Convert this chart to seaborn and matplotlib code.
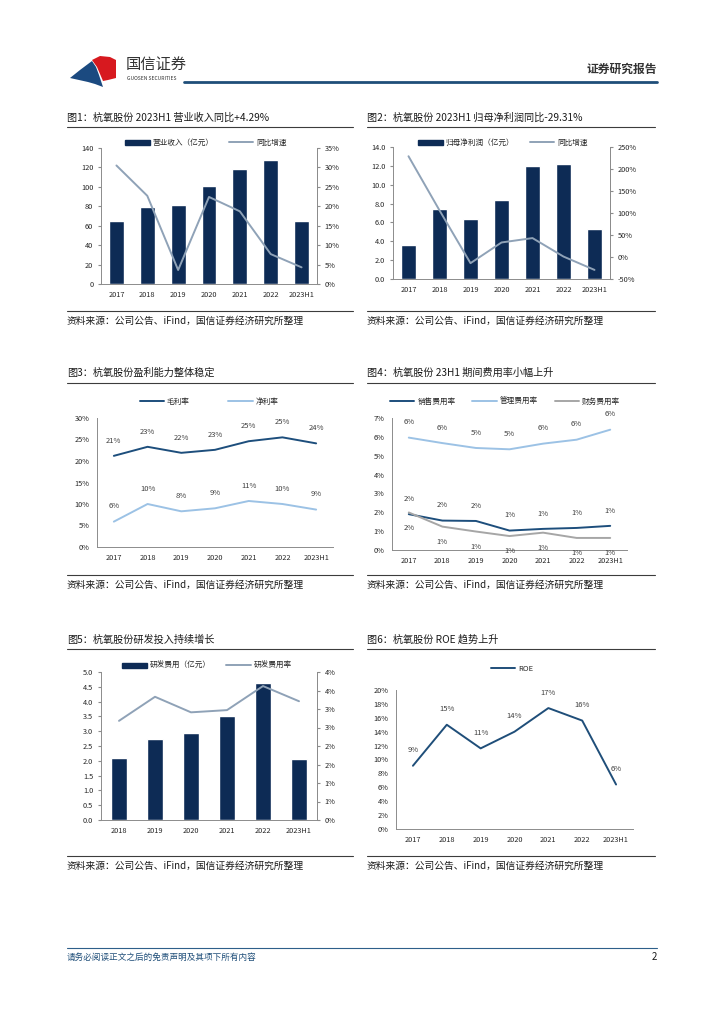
import numpy as np
import matplotlib
matplotlib.use("Agg")
import matplotlib.pyplot as plt
from matplotlib.lines import Line2D
from matplotlib.patches import Patch, Polygon
import seaborn as sns

sns.set_style("white")
plt.rcParams['font.family'] = ['Noto Sans CJK SC', 'DejaVu Sans']
plt.rcParams['axes.unicode_minus'] = False

# ---------------- data ----------------
years7 = ["2017", "2018", "2019", "2020", "2021", "2022", "2023H1"]
years6 = ["2018", "2019", "2020", "2021", "2022", "2023H1"]

revenue = [64.5, 79.0, 81.5, 100.5, 118.5, 128.0, 64.5]
revenue_yoy = [30.5, 22.7, 3.6, 22.4, 18.7, 7.7, 4.29]

profit = [3.6, 7.4, 6.35, 8.4, 11.95, 12.15, 5.3]
profit_yoy = [229, 106, -14, 33, 43, 1, -29.31]

gross_margin = [21.2, 23.3, 21.9, 22.6, 24.6, 25.5, 24.1]
gross_labels = ["21%", "23%", "22%", "23%", "25%", "25%", "24%"]
net_margin = [5.9, 10.0, 8.3, 9.0, 10.7, 10.0, 8.7]
net_labels = ["6%", "10%", "8%", "9%", "11%", "10%", "9%"]

sales_rate = [1.9, 1.56, 1.54, 1.03, 1.12, 1.17, 1.28]
sales_labels = ["2%", "2%", "2%", "1%", "1%", "1%", "1%"]
admin_rate = [5.96, 5.67, 5.41, 5.34, 5.64, 5.85, 6.38]
admin_labels = ["6%", "6%", "5%", "5%", "6%", "6%", "6%"]
fin_rate = [1.99, 1.24, 0.98, 0.74, 0.92, 0.64, 0.64]
fin_labels = ["2%", "1%", "1%", "1%", "1%", "1%", "1%"]

rd_expense = [2.1, 2.72, 2.93, 3.52, 4.62, 2.05]
rd_rate = [2.68, 3.33, 2.91, 2.97, 3.62, 3.21]
rd_rate_ticks = [0, 0.5, 1.0, 1.5, 2.0, 2.5, 3.0, 3.5, 4.0]
rd_rate_ticklabels = ["0%", "1%", "1%", "2%", "2%", "3%", "3%", "4%", "4%"]

roe = [9.1, 15.0, 11.6, 14.0, 17.4, 15.6, 6.4]
roe_labels = ["9%", "15%", "11%", "14%", "17%", "16%", "6%"]

titles = [
    "图1：杭氧股份 2023H1 营业收入同比+4.29%",
    "图2：杭氧股份 2023H1 归母净利润同比-29.31%",
    "图3：杭氧股份盈利能力整体稳定",
    "图4：杭氧股份 23H1 期间费用率小幅上升",
    "图5：杭氧股份研发投入持续增长",
    "图6：杭氧股份 ROE 趋势上升",
]
source = "资料来源：公司公告、iFind，国信证券经济研究所整理"

# ---------------- styling ----------------
NAVY = "#0d2b55"
SLATE = "#8fa2b7"
DARKBLUE = "#1d4e7c"
LIGHTBLUE = "#9cc2e5"
GRAY = "#a6a6a6"
SPINE = "#8c8c8c"
TXT = "#262626"
TICK_FS = 5.3
LEG_FS = 5.5
ANN_FS = 5.5

W, H = 724, 1024
fig = plt.figure(figsize=(W / 100, H / 100), dpi=100)


def box(l, t, r, b):
    return [l / W, 1 - b / H, (r - l) / W, (b - t) / H]


def ftext(x, y, s, **kw):
    fig.text(x / W, 1 - y / H, s, **kw)


def hline(x1, x2, y, color, lw):
    fig.add_artist(Line2D([x1 / W, x2 / W], [1 - y / H, 1 - y / H],
                          transform=fig.transFigure, color=color, lw=lw))


def style_axes(ax, n, right=False):
    sns.despine(ax=ax, top=True, right=not right)
    for s in ["left", "bottom", "right"]:
        ax.spines[s].set_color(SPINE)
        ax.spines[s].set_linewidth(0.7)
    ax.set_xlim(-0.5, n - 0.5)
    ax.set_xticks(np.arange(n))
    ax.tick_params(axis="x", length=0, labelsize=TICK_FS, pad=5, colors=TXT)
    ax.set_xticks(np.arange(n + 1) - 0.5, minor=True)
    ax.tick_params(axis="x", which="minor", length=2, direction="in", color=SPINE)
    ax.tick_params(axis="y", length=2.5, direction="out", labelsize=TICK_FS,
                   pad=3, colors=TXT, color=SPINE)
    ax.set_xlabel("")
    ax.set_ylabel("")


def style_right(ax2):
    ax2.spines["right"].set_color(SPINE)
    ax2.spines["right"].set_linewidth(0.7)
    for s in ["top", "left", "bottom"]:
        ax2.spines[s].set_visible(False)
    ax2.tick_params(axis="y", length=2.5, labelsize=TICK_FS, pad=3, colors=TXT, color=SPINE)
    ax2.set_ylabel("")


def frame(x1, x2, ytitle, yline, ysrc_line, ysrc, title):
    ftext(x1, ytitle, title, fontsize=7.3, color="#1a1a1a", va="center")
    hline(x1, x2, yline, "#3c3c3c", 0.8)
    hline(x1, x2, ysrc_line, "#3c3c3c", 0.8)
    ftext(x1, ysrc, source, fontsize=7.0, color="#1a1a1a", va="center")


def legend(ax, handles, labels, cx, cy, spacing=2.0):
    ax.legend(handles, labels, loc="center", bbox_to_anchor=(cx / W, 1 - cy / H),
              bbox_transform=fig.transFigure, ncol=len(handles), frameon=False,
              fontsize=LEG_FS, handlelength=3.2, handleheight=0.6,
              columnspacing=spacing, handletextpad=0.4)


def annotate(ax, ys, labels, dy):
    for i, (v, s) in enumerate(zip(ys, labels)):
        ax.annotate(s, (i, v), xytext=(0, dy), textcoords="offset points",
                    ha="center", va="center", fontsize=ANN_FS, color="#404040")


def fig_poly(points, color):
    fig.add_artist(Polygon([(x / W, 1 - y / H) for x, y in points], closed=True,
                           transform=fig.transFigure, color=color, lw=0))


# ---------------- header / footer ----------------
fig_poly([(70, 78), (80, 70), (92, 61), (96, 67), (99, 75), (103, 87),
          (95, 84), (88, 82)], "#1b4a80")
fig_poly([(92, 60), (100, 56), (110, 57), (116, 60), (116, 78), (108, 80),
          (103, 81), (100, 74), (97, 67)], "#d7191f")
ftext(126, 64, "国信证券", fontsize=11, color="#333333", va="center", fontweight="medium")
ftext(127, 79, "GUOSEN SECURITIES", fontsize=3.6, color="#333333", va="center")
hline(184, 657, 82, "#1f4e79", 2.0)
ftext(657, 69, "证券研究报告", fontsize=8.5, color="#333333", va="center",
      ha="right", fontweight="bold")
hline(67, 657, 948, "#2e5f8a", 0.8)
ftext(67, 957, "请务必阅读正文之后的免责声明及其项下所有内容", fontsize=6.2,
      color="#1f4e79", va="center", style="italic")
ftext(657, 957, "2", fontsize=7, color="#1a1a1a", va="center", ha="right")

# ---------------- chart 1 ----------------
frame(67, 353, 118, 127, 311, 321, titles[0])
ax = fig.add_axes(box(101, 148, 317, 284))
sns.barplot(x=np.arange(7), y=revenue, color=NAVY, saturation=1, width=0.48,
            native_scale=True, ax=ax)
ax.set_ylim(0, 140)
ax.set_yticks(range(0, 141, 20))
style_axes(ax, 7, right=True)
ax.set_xticklabels(years7)
ax2 = ax.twinx()
sns.lineplot(x=np.arange(7), y=revenue_yoy, color=SLATE, lw=1.4, ax=ax2)
ax2.set_ylim(0, 35)
ax2.set_yticks(range(0, 36, 5))
ax2.set_yticklabels([f"{v}%" for v in range(0, 36, 5)])
style_right(ax2)
legend(ax2, [Patch(color=NAVY), Line2D([], [], color=SLATE, lw=1.4)],
       ["营业收入（亿元）", "同比增速"], 206, 143)

# ---------------- chart 2 ----------------
frame(367, 655, 118, 127, 311, 321, titles[1])
ax = fig.add_axes(box(393, 147, 610, 279))
sns.barplot(x=np.arange(7), y=profit, color=NAVY, saturation=1, width=0.48,
            native_scale=True, ax=ax)
ax.set_ylim(0, 14)
ax.set_yticks(np.arange(0, 14.1, 2))
ax.set_yticklabels([f"{v:.1f}" for v in np.arange(0, 14.1, 2)])
style_axes(ax, 7, right=True)
ax.set_xticklabels(years7)
ax2 = ax.twinx()
sns.lineplot(x=np.arange(7), y=profit_yoy, color=SLATE, lw=1.4, ax=ax2)
ax2.set_ylim(-50, 250)
ax2.set_yticks(range(-50, 251, 50))
ax2.set_yticklabels([f"{v}%" for v in range(-50, 251, 50)])
style_right(ax2)
legend(ax2, [Patch(color=NAVY), Line2D([], [], color=SLATE, lw=1.4)],
       ["归母净利润（亿元）", "同比增速"], 503, 143)

# ---------------- chart 3 ----------------
frame(67, 353, 373, 383, 575, 585, titles[2])
ax = fig.add_axes(box(97, 418, 333, 547))
sns.lineplot(x=np.arange(7), y=gross_margin, color=DARKBLUE, lw=1.4, ax=ax)
sns.lineplot(x=np.arange(7), y=net_margin, color=LIGHTBLUE, lw=1.4, ax=ax)
annotate(ax, gross_margin, gross_labels, 11)
annotate(ax, net_margin, net_labels, 11)
ax.set_ylim(0, 30)
ax.set_yticks(range(0, 31, 5))
ax.set_yticklabels([f"{v}%" for v in range(0, 31, 5)])
style_axes(ax, 7)
ax.set_xticklabels(years7)
legend(ax, [Line2D([], [], color=DARKBLUE, lw=1.4), Line2D([], [], color=LIGHTBLUE, lw=1.4)],
       ["毛利率", "净利率"], 209, 402, spacing=5)

# ---------------- chart 4 ----------------
frame(367, 655, 373, 383, 575, 585, titles[3])
ax = fig.add_axes(box(392, 418, 627, 550))
sns.lineplot(x=np.arange(7), y=sales_rate, color=DARKBLUE, lw=1.4, ax=ax)
sns.lineplot(x=np.arange(7), y=admin_rate, color=LIGHTBLUE, lw=1.4, ax=ax)
sns.lineplot(x=np.arange(7), y=fin_rate, color=GRAY, lw=1.4, ax=ax)
annotate(ax, sales_rate, sales_labels, 11)
annotate(ax, admin_rate, admin_labels, 11)
annotate(ax, fin_rate, fin_labels, -11)
ax.set_ylim(0, 7)
ax.set_yticks(range(0, 8))
ax.set_yticklabels([f"{v}%" for v in range(0, 8)])
style_axes(ax, 7)
ax.set_xticklabels(years7)
legend(ax, [Line2D([], [], color=DARKBLUE, lw=1.4), Line2D([], [], color=LIGHTBLUE, lw=1.4),
            Line2D([], [], color=GRAY, lw=1.4)],
       ["销售费用率", "管理费用率", "财务费用率"], 505, 402, spacing=2.2)

# ---------------- chart 5 ----------------
frame(67, 353, 640, 649, 856, 866, titles[4])
ax = fig.add_axes(box(101, 672, 317, 820))
sns.barplot(x=np.arange(6), y=rd_expense, color=NAVY, saturation=1, width=0.46,
            native_scale=True, ax=ax)
ax.set_ylim(0, 5)
ax.set_yticks(np.arange(0, 5.01, 0.5))
ax.set_yticklabels([f"{v:.1f}" for v in np.arange(0, 5.01, 0.5)])
style_axes(ax, 6, right=True)
ax.set_xticklabels(years6)
ax2 = ax.twinx()
sns.lineplot(x=np.arange(6), y=rd_rate, color=SLATE, lw=1.4, ax=ax2)
ax2.set_ylim(0, 4)
ax2.set_yticks(rd_rate_ticks)
ax2.set_yticklabels(rd_rate_ticklabels)
style_right(ax2)
legend(ax2, [Patch(color=NAVY), Line2D([], [], color=SLATE, lw=1.4)],
       ["研发费用（亿元）", "研发费用率"], 207, 666)

# ---------------- chart 6 ----------------
frame(367, 655, 640, 649, 856, 866, titles[5])
ax = fig.add_axes(box(396, 690, 633, 829))
sns.lineplot(x=np.arange(7), y=roe, color="#1f4e79", lw=1.4, ax=ax)
annotate(ax, roe, roe_labels, 11)
ax.set_ylim(0, 20)
ax.set_yticks(range(0, 21, 2))
ax.set_yticklabels([f"{v}%" for v in range(0, 21, 2)])
style_axes(ax, 7)
ax.set_xticklabels(years7)
legend(ax, [Line2D([], [], color="#1f4e79", lw=1.4)], ["ROE"], 512, 669)

fig.savefig("out.png", dpi=100)
